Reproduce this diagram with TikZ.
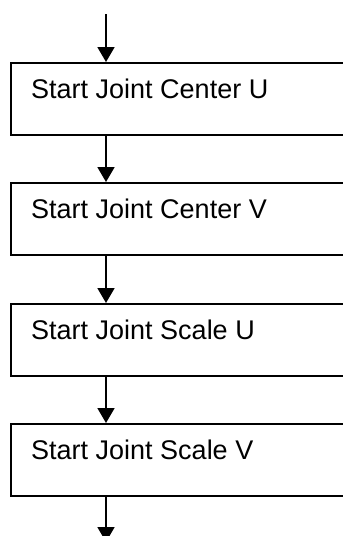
\documentclass[tikz,border=0pt]{standalone}
\usepackage{fontspec}
\setmainfont{Liberation Sans}
\usetikzlibrary{arrows.meta}
\begin{document}
\begin{tikzpicture}[x=1pt,y=1pt,
  boxst/.style={draw=black,line width=1.8pt,rectangle,minimum width=360pt,minimum height=72pt,anchor=north west,inner sep=0pt},
  lbl/.style={anchor=base west,font=\fontsize{27}{32}\selectfont,inner sep=0pt},
  arr/.style={line width=1.8pt,-{Triangle[length=15pt,width=17pt]}}]
\useasboundingbox (0,0) rectangle (343,-536);
\clip (0,0) rectangle (343,-536);
\node[boxst] (b1) at (10,-62) {};
\node[boxst] (b2) at (10,-182) {};
\node[boxst] (b3) at (10,-303) {};
\node[boxst] (b4) at (10,-423) {};
\node[lbl] (t1) at (31,-98) {Start Joint Center U};
\node[lbl] (t2) at (31,-218) {Start Joint Center V};
\node[lbl] (t3) at (31,-339) {Start Joint Scale U};
\node[lbl] (t4) at (31,-459) {Start Joint Scale V};
\coordinate (top) at (106,-14);
\coordinate (bot) at (106,-542);
\draw[arr] (top) -- (106,-62);
\draw[arr] ([xshift=96pt]b1.south west) -- ([xshift=96pt]b2.north west);
\draw[arr] ([xshift=96pt]b2.south west) -- ([xshift=96pt]b3.north west);
\draw[arr] ([xshift=96pt]b3.south west) -- ([xshift=96pt]b4.north west);
\draw[arr] ([xshift=96pt]b4.south west) -- (bot);
\end{tikzpicture}
\end{document}
